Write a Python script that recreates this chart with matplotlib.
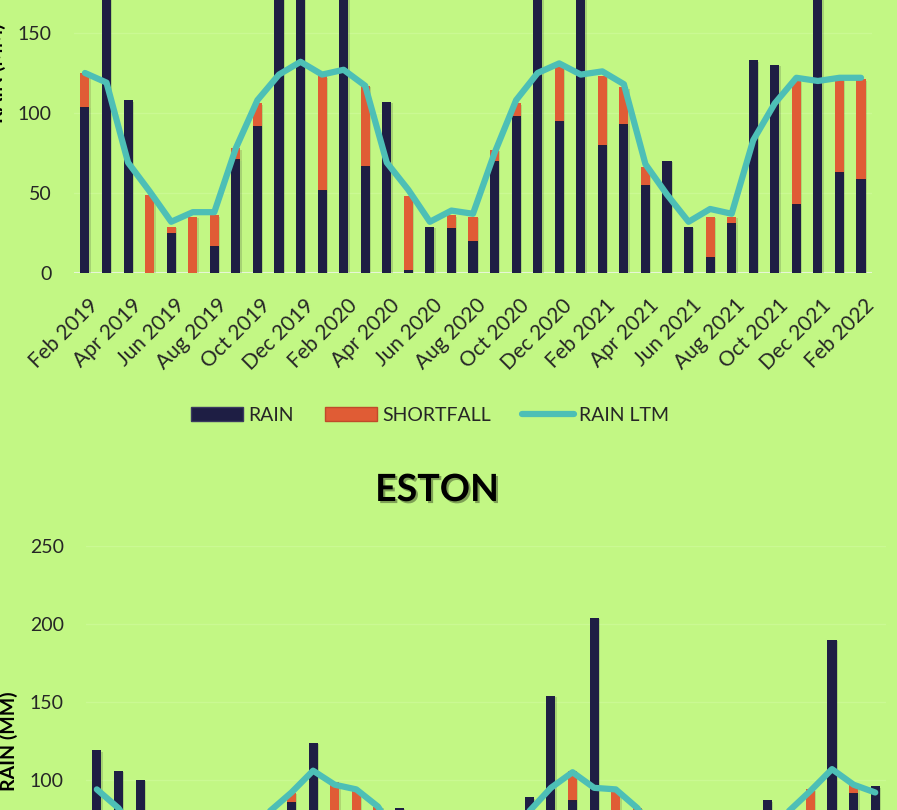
import matplotlib
matplotlib.use('Agg')
import matplotlib.pyplot as plt
import matplotlib.patheffects as pe
from matplotlib.patches import Patch
from matplotlib.lines import Line2D
from matplotlib.transforms import ScaledTranslation

plt.rcParams['font.family'] = ['Lato', 'DejaVu Sans']

# monthly data Feb 2019 .. Feb 2022 (37 months)
tick_labels = ['Feb 2019', 'Apr 2019', 'Jun 2019', 'Aug 2019', 'Oct 2019', 'Dec 2019',
               'Feb 2020', 'Apr 2020', 'Jun 2020', 'Aug 2020', 'Oct 2020', 'Dec 2020',
               'Feb 2021', 'Apr 2021', 'Jun 2021', 'Aug 2021', 'Oct 2021', 'Dec 2021',
               'Feb 2022']

# top station (title out of view)
top_rain = [104, 195, 108, 0, 25, 0, 17, 71, 92, 230, 180, 52, 210, 67, 107, 2, 29, 28, 20,
            70, 98, 245, 95, 200, 80, 93, 55, 70, 29, 10, 31, 133, 130, 43, 190, 63, 59]
top_short = [21, 0, 0, 49, 4, 35, 19, 7, 14, 0, 0, 71, 0, 50, 0, 46, 0, 8, 15,
             7, 8, 0, 34, 0, 43, 23, 11, 0, 0, 25, 4, 0, 0, 77, 0, 58, 62]
top_ltm = [125, 119, 69, 51, 32, 38, 38, 78, 108, 124, 132, 124, 127, 117, 69, 52, 32, 39, 37,
           75, 108, 125, 131, 124, 126, 118, 68, 49, 32, 40, 37, 83, 106, 122, 120, 122, 122]

# ESTON
eston_rain = [119, 106, 100, 30, 45, 10, 20, 60, 65, 86, 124, 55, 68, 60, 82, 20, 35, 18, 25,
              40, 89, 154, 87, 204, 70, 62, 40, 55, 12, 30, 15, 87, 60, 75, 190, 92, 96]
eston_short = [0, 0, 0, 12, 0, 15, 12, 0, 13, 6, 0, 44, 26, 23, 0, 22, 0, 7, 7,
               12, 0, 0, 19, 0, 24, 20, 22, 0, 16, 0, 17, 0, 18, 19, 0, 5, 0]
eston_ltm = [94, 82, 62, 42, 28, 25, 32, 52, 80, 92, 106, 97, 94, 83, 62, 42, 28, 25, 32,
             52, 80, 95, 105, 95, 94, 82, 62, 42, 28, 25, 32, 52, 80, 93, 107, 97, 92]

bg = '#C2F784'
navy = '#1E1E44'
orange = '#E05C35'
teal = '#4DBFB6'
txt = '#262626'

fig = plt.figure(figsize=(8.97, 8.10), dpi=100)
fig.patch.set_facecolor(bg)


def draw(ax, rain, short, ltm):
    x = list(range(len(rain)))
    shadow = [pe.SimplePatchShadow(offset=(1, -1), alpha=0.15), pe.Normal()]
    ax.bar(x, rain, width=0.42, color=navy, zorder=2, path_effects=shadow)
    ax.bar(x, short, width=0.42, bottom=rain, color=orange, zorder=2, path_effects=shadow)
    ax.plot(x, ltm, color=teal, lw=4.5, solid_joinstyle='round', solid_capstyle='round', zorder=3)
    ax.set_facecolor(bg)
    ax.set_xlim(-0.5, len(rain) - 0.5)
    ax.set_ylim(0, 250)
    ax.set_yticks([0, 50, 100, 150, 200, 250])
    ax.yaxis.grid(True, color='#CAF993', lw=1)
    ax.axhline(0, color='#E6F6D6', lw=1.5, zorder=1)
    ax.set_axisbelow(True)
    for s in ax.spines.values():
        s.set_visible(False)
    ax.tick_params(axis='y', length=0, pad=16, labelsize=14, labelcolor=txt)
    ax.tick_params(axis='x', length=0, pad=16, labelsize=15, labelcolor=txt)
    ax.set_xticks(range(0, len(rain), 2))
    ax.set_xticklabels(tick_labels, rotation=45, ha='right', va='top', rotation_mode='anchor')
    for lab in ax.get_xticklabels():
        lab.set_transform(lab.get_transform() + ScaledTranslation(0.03, 0, fig.dpi_scale_trans))
    ax.set_ylabel('RAIN (MM)', fontsize=14, fontweight='bold', color='black')


# top chart (cut off at the top of the picture)
ax1 = fig.add_axes([0.0827, 0.6630, 0.8892, 0.4938])
draw(ax1, top_rain, top_short, top_ltm)
ax1.yaxis.set_label_coords(-0.0855, 0.5)

# ESTON chart (cut off at the bottom)
ax2 = fig.add_axes([0.0959, -0.1556, 0.8919, 0.4815])
draw(ax2, eston_rain, eston_short, eston_ltm)
ax2.yaxis.set_label_coords(-0.085, 0.5)

handles = [Patch(facecolor=navy, edgecolor='#3A3A60', label='RAIN'),
           Patch(facecolor=orange, edgecolor='#C04A2A', label='SHORTFALL'),
           Line2D([], [], color=teal, lw=4.5, solid_capstyle='round', label='RAIN LTM')]
fig.legend(handles=handles, loc='center', bbox_to_anchor=(430 / 897, 1 - 415 / 810),
           ncol=3, frameon=False, fontsize=14, handlelength=2.7, handleheight=0.75,
           handletextpad=0.25, columnspacing=1.6, labelcolor=txt)

fig.text(437 / 897, 1 - 490 / 810, 'ESTON', ha='center', va='center', fontsize=27,
         fontweight='bold', color='black',
         path_effects=[pe.withSimplePatchShadow(offset=(1.5, -1.5), alpha=0.35)])

fig.savefig('out.png', dpi=100, facecolor=bg)
